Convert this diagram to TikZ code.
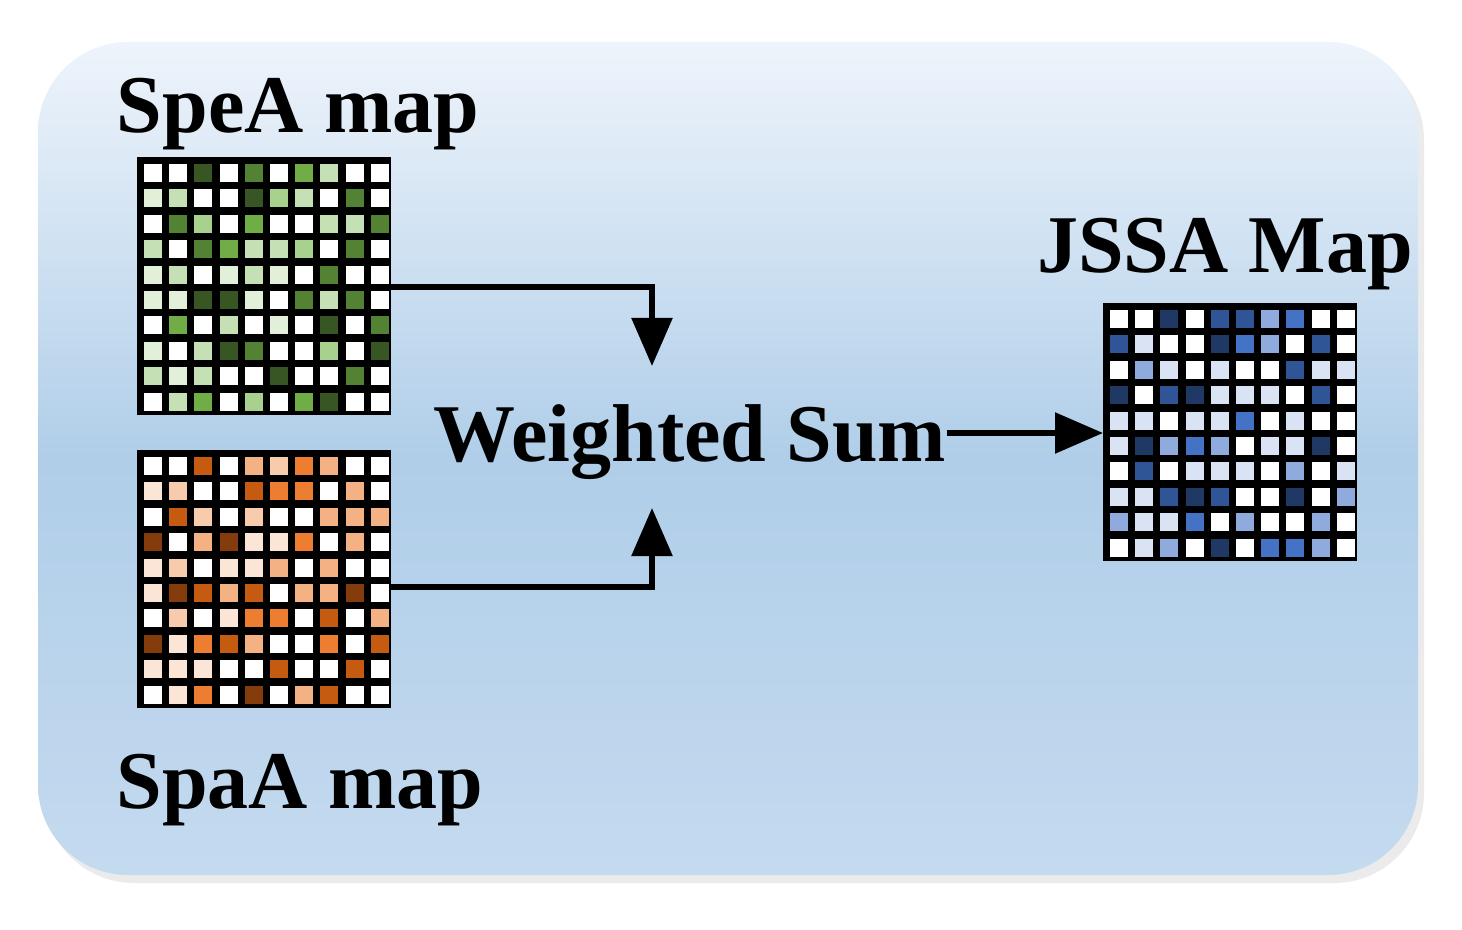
\documentclass[tikz,border=0pt]{standalone}
\usepackage{fontspec}
\setmainfont{Liberation Serif}
\usetikzlibrary{arrows.meta}
\definecolor{bgtop}{HTML}{EEF4FB}
\definecolor{bgmid}{HTML}{B0CEE9}
\definecolor{bgbot}{HTML}{C4DAEF}
\definecolor{gA}{HTML}{E2EFD9}\definecolor{gB}{HTML}{C5E0B4}\definecolor{gC}{HTML}{A9D18E}
\definecolor{gD}{HTML}{70AD47}\definecolor{gE}{HTML}{548235}\definecolor{gF}{HTML}{375623}
\definecolor{oA}{HTML}{FBE5D6}\definecolor{oB}{HTML}{F8CBAD}\definecolor{oC}{HTML}{F4B183}
\definecolor{oD}{HTML}{ED7D31}\definecolor{oE}{HTML}{C55A11}\definecolor{oF}{HTML}{843C0C}
\definecolor{bA}{HTML}{DAE3F3}\definecolor{bB}{HTML}{DAE3F3}\definecolor{bC}{HTML}{8FAADC}
\definecolor{bD}{HTML}{4472C4}\definecolor{bE}{HTML}{2F5597}\definecolor{bF}{HTML}{203864}
\newcommand{\mygrid}[4]{% x0 y0 prefix rows
  \fill[black] (#1,#2) rectangle ++(254,258);
  \foreach \row [count=\r from 0] in {#4} {
    \foreach \v [count=\c from 0] in \row {
      \ifnum\v=0 \def\cc{white}\else
      \edef\cc{#3\ifcase\v\or A\or B\or C\or D\or E\or F\fi}\fi
      \fill[\cc] ({#1+7+\c*25.2},{#2+7+\r*25.4}) rectangle ++(18,18);
    }
  }
}
\tikzset{lbl/.style={font=\bfseries\fontsize{41}{41}\selectfont},
  arr/.style={line width=2.8pt,-{Triangle[length=24pt,width=20pt]}}}
\begin{document}
\begin{tikzpicture}[x=0.5pt,y=-0.5pt]
\useasboundingbox (0,0) rectangle (1462,930);
\fill[black!8,rounded corners=45pt] (44,50) rectangle (1424,883);
\shade[top color=bgtop,bottom color=bgbot,middle color=bgmid,shading angle=0,rounded corners=45pt] (38,42) rectangle (1418,875);
\mygrid{137}{157}{g}{{0,0,6,0,5,0,4,2,0,0},{1,2,0,0,6,3,2,0,5,0},{0,5,3,0,4,0,0,2,2,5},{2,0,5,4,2,2,3,0,5,0},{1,2,0,1,2,1,0,5,0,0},{1,1,6,6,1,0,5,2,5,0},{0,4,0,2,0,1,0,6,0,5},{1,0,2,6,5,0,0,3,0,6},{2,1,2,0,0,6,0,0,5,0},{0,2,4,0,3,0,4,6,0,0}}
\mygrid{137}{450}{o}{{0,0,5,0,3,2,4,3,0,0},{1,2,0,0,5,4,4,0,3,0},{0,5,2,0,2,0,0,3,3,3},{6,0,3,6,1,1,4,0,3,0},{1,2,0,1,1,3,0,3,0,0},{1,6,5,3,5,0,3,3,6,0},{0,2,0,1,4,4,0,5,0,3},{6,1,4,5,3,0,0,4,0,5},{1,1,1,0,0,5,0,0,5,0},{0,1,4,0,6,0,3,5,0,0}}
\mygrid{1103}{303}{b}{{0,0,6,0,5,5,3,4,0,0},{5,1,0,0,6,4,3,0,5,0},{0,3,1,0,1,0,0,5,1,1},{6,0,5,6,1,1,1,0,5,0},{1,1,0,1,1,4,0,1,0,0},{1,6,3,4,3,0,1,1,6,0},{0,5,0,1,1,1,0,3,0,1},{1,1,5,6,5,0,0,6,0,3},{3,1,1,4,0,3,0,0,3,0},{0,1,3,0,6,0,4,4,3,0}}
\coordinate (gout) at (391,287);
\coordinate (oout) at (391,587);
\coordinate (bin) at (1103,433);
\node[lbl] (spe) at (298,114) {SpeA map};
\node[lbl] (spa) at (300,790) {SpaA map};
\node[lbl] (jssa) at (1225,254) {JSSA Map};
\node[lbl,inner sep=0pt] (ws) at (690,442) {Weighted Sum};
\draw[arr] (gout) -| (652,366);
\draw[arr] (oout) -| (652,508);
\draw[arr] (ws.east |- bin) -- (bin);
\end{tikzpicture}
\end{document}
